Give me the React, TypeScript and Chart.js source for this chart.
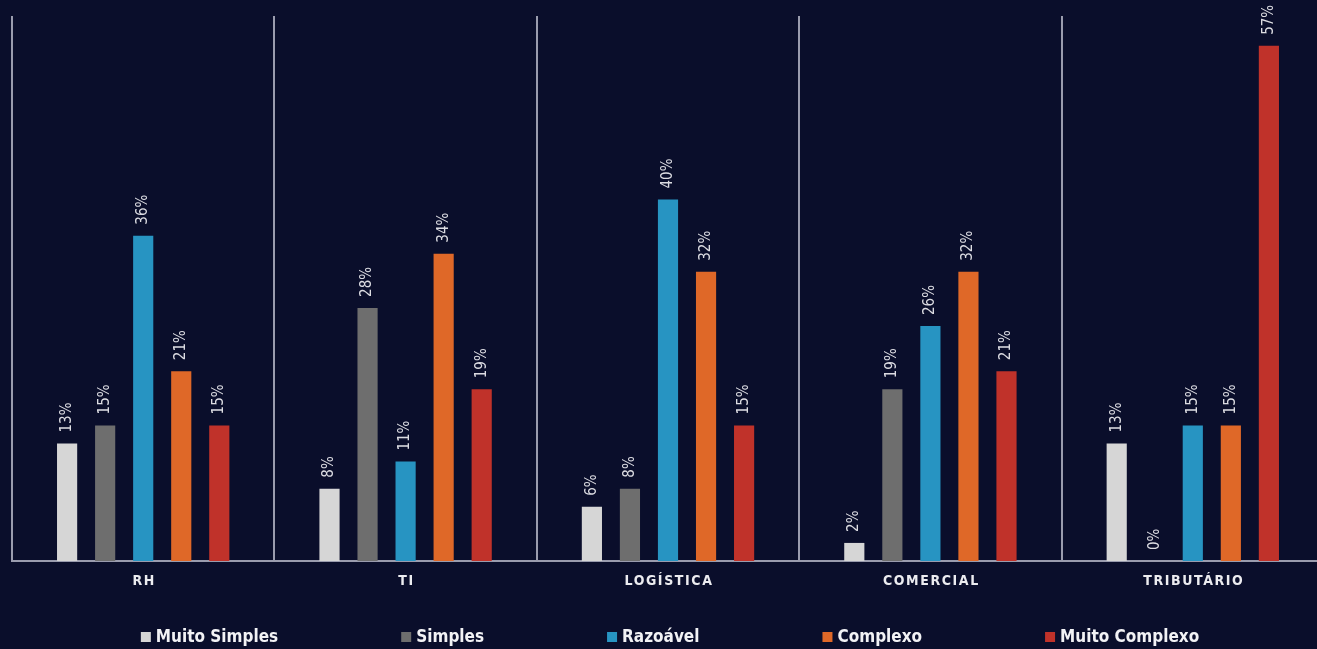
import React, { useEffect, useRef } from "react";
import { Chart, registerables } from "chart.js";

Chart.register(...registerables);

const categories = ["RH", "TI", "LOGÍSTICA", "COMERCIAL", "TRIBUTÁRIO"];
const seriesNames = ["Muito Simples", "Simples", "Razoável", "Complexo", "Muito Complexo"];
const muitoSimples = [13, 8, 6, 2, 13];
const simples = [15, 28, 8, 19, 0];
const razoavel = [36, 11, 40, 26, 15];
const complexo = [21, 34, 32, 32, 15];
const muitoComplexo = [15, 19, 15, 21, 57];
const seriesColors = ["#d6d6d6", "#6e6e6e", "#2794c2", "#df6828", "#c0322a"];

const BG = "#0a0e2b";
const W = 1336;
const H = 649;

const labelPlugin = {
  id: "customLabels",
  afterDatasetsDraw(chart: any) {
    const ctx = chart.ctx;
    ctx.save();
    ctx.font = "15px 'DejaVu Sans Condensed', 'DejaVu Sans', sans-serif";
    ctx.fillStyle = "#dcdce2";
    ctx.textAlign = "left";
    ctx.textBaseline = "middle";
    chart.data.datasets.forEach((ds: any, i: number) => {
      const meta = chart.getDatasetMeta(i);
      meta.data.forEach((el: any, j: number) => {
        const v = ds.data[j];
        ctx.save();
        ctx.translate(el.x, el.y - 11);
        ctx.rotate(-Math.PI / 2);
        ctx.fillText(v + "%", 0, 0);
        ctx.restore();
      });
    });
    ctx.restore();
  },
  afterDraw(chart: any) {
    const ctx = chart.ctx;
    const xs = chart.scales.x;
    const area = chart.chartArea;
    // category labels
    ctx.save();
    ctx.font = "bold 14px 'DejaVu Sans Condensed', 'DejaVu Sans', sans-serif";
    ctx.fillStyle = "#ececf0";
    ctx.textAlign = "center";
    ctx.textBaseline = "middle";
    (ctx as any).letterSpacing = "1.6px";
    chart.data.labels.forEach((lab: string, i: number) => {
      ctx.fillText(lab, xs.getPixelForValue(i) + 1, area.bottom + 20);
    });
    (ctx as any).letterSpacing = "0px";
    ctx.restore();
    // legend
    ctx.save();
    ctx.font = "bold 17px 'DejaVu Sans Condensed', 'DejaVu Sans', sans-serif";
    ctx.textBaseline = "middle";
    ctx.textAlign = "left";
    const box = 10;
    const gap = 5;
    const spacing = 123;
    const items = chart.data.datasets.map((ds: any) => ({
      text: ds.label,
      color: ds.backgroundColor,
      w: box + gap + ctx.measureText(ds.label).width,
    }));
    const total = items.reduce((s: number, it: any) => s + it.w, 0) + spacing * (items.length - 1);
    let x = 670 - total / 2;
    const y = 637;
    items.forEach((it: any) => {
      ctx.fillStyle = it.color;
      ctx.fillRect(x, y - box / 2, box, box);
      ctx.fillStyle = "#f2f2f5";
      ctx.fillText(it.text, x + box + gap, y + 1);
      x += it.w + spacing;
    });
    ctx.restore();
  },
};

export default function App() {
  const ref = useRef<HTMLCanvasElement | null>(null);
  useEffect(() => {
    document.body.style.margin = "0";
    document.body.style.background = BG;
    document.body.style.overflow = "hidden";
    const seriesData = [muitoSimples, simples, razoavel, complexo, muitoComplexo];
    const chart = new Chart(ref.current as HTMLCanvasElement, {
      type: "bar",
      data: {
        labels: categories,
        datasets: seriesNames.map((name, i) => ({
          label: name,
          data: seriesData[i],
          backgroundColor: seriesColors[i],
          borderWidth: 0,
          categoryPercentage: 0.725,
          barPercentage: 0.53,
        })),
      },
      options: {
        responsive: false,
        animation: false,
        layout: { padding: { left: 12, right: 12, top: 16, bottom: 0 } },
        plugins: {
          legend: { display: false },
          tooltip: { enabled: false },
        },
        scales: {
          x: {
            ticks: { display: false },
            grid: {
              display: true,
              offset: true,
              color: "#9a9cae",
              lineWidth: 2,
              drawTicks: false,
            },
            border: { display: true, color: "#9a9cae", width: 2 },
            afterFit: (scale: any) => {
              scale.height = 88;
            },
          },
          y: {
            display: false,
            min: 0,
            max: 60.3,
          },
        },
      },
      plugins: [
        {
          id: "bg",
          beforeDraw(c: any) {
            const ctx = c.ctx;
            ctx.save();
            ctx.fillStyle = BG;
            ctx.fillRect(0, 0, c.width, c.height);
            ctx.restore();
          },
        },
        labelPlugin,
      ],
    });
    return () => chart.destroy();
  }, []);
  return (
    <div style={{ width: W, height: H, overflow: "hidden", background: BG }}>
      <canvas ref={ref} width={W} height={H} style={{ width: W, height: H, display: "block" }} />
    </div>
  );
}
